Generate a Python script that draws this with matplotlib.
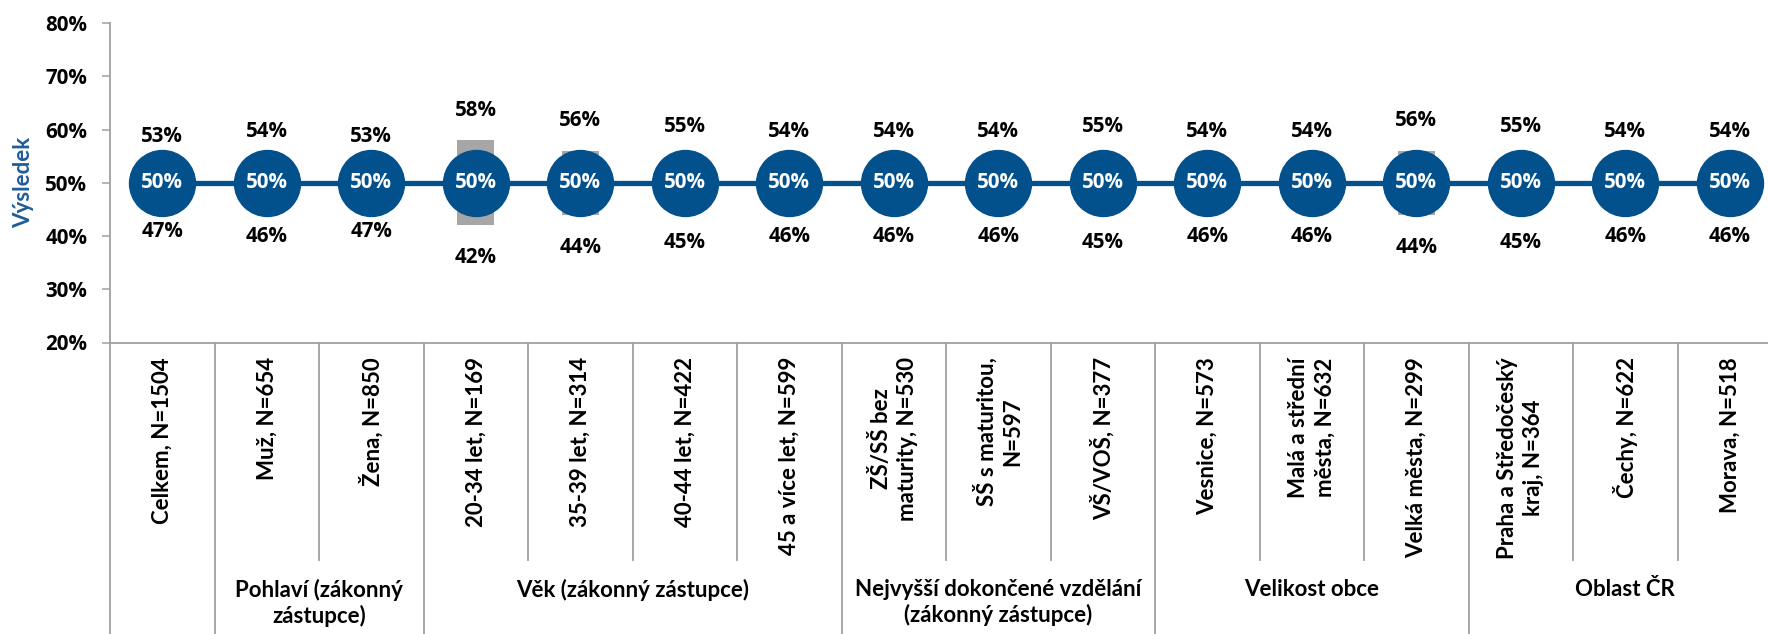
import matplotlib
matplotlib.use("Agg")
import matplotlib.pyplot as plt
import matplotlib.transforms as mtransforms
import numpy as np

# Survey result with confidence interval per respondent group
categories = [
    "Celkem, N=1504",
    "Muž, N=654",
    "Žena, N=850",
    "20-34 let, N=169",
    "35-39 let, N=314",
    "40-44 let, N=422",
    "45 a více let, N=599",
    "ZŠ/SŠ bez\nmaturity, N=530",
    "SŠ s maturitou,\nN=597",
    "VŠ/VOŠ, N=377",
    "Vesnice, N=573",
    "Malá a střední\nměsta, N=632",
    "Velká města, N=299",
    "Praha a Středočeský\nkraj, N=364",
    "Čechy, N=622",
    "Morava, N=518",
]
result = [50, 50, 50, 50, 50, 50, 50, 50, 50, 50, 50, 50, 50, 50, 50, 50]
upper = [53, 54, 53, 58, 56, 55, 54, 54, 54, 55, 54, 54, 56, 55, 54, 54]
lower = [47, 46, 47, 42, 44, 45, 46, 46, 46, 45, 46, 46, 44, 45, 46, 46]

group_names = [
    "",
    "Pohlaví (zákonný\nzástupce)",
    "Věk (zákonný zástupce)",
    "Nejvyšší dokončené vzdělání\n(zákonný zástupce)",
    "Velikost obce",
    "Oblast ČR",
]
group_sizes = [1, 2, 4, 3, 3, 3]

y_ticks = [20, 30, 40, 50, 60, 70, 80]

BLUE = "#02508C"
LABEL_BLUE = "#1F5C99"
GREY_BOX = "#A6A6A6"
AXIS_GREY = "#A0A0A0"
TEXT_FONT = ["Lato", "DejaVu Sans"]
NUM_FONT = ["Open Sans", "DejaVu Sans"]
FS_TEXT = 16
FS_NUM = 14.8

plt.rcParams["font.family"] = TEXT_FONT
plt.rcParams["font.weight"] = "bold"

W, H = 1768, 634
fig = plt.figure(figsize=(W / 100, H / 100), dpi=100)

ax_left, ax_bottom_px, ax_top_px = 110, 342.5, 23
ax_width_px = 104.5 * len(categories)
ax = fig.add_axes([ax_left / W, 1 - ax_bottom_px / H,
                   ax_width_px / W, (ax_bottom_px - ax_top_px) / H])
ax_h_px = ax_bottom_px - ax_top_px

x = np.arange(len(categories))
up = np.array(upper)
lo = np.array(lower)
mid = np.array(result)

# confidence interval boxes
ax.bar(x, up - lo, bottom=lo, width=0.355, color=GREY_BOX, zorder=2)
# result line with circle markers
ax.plot(x, mid, color=BLUE, lw=3.8, marker="o", markersize=47.5,
        markerfacecolor=BLUE, markeredgecolor=BLUE, zorder=3)

for xi, m, u, l in zip(x, mid, up, lo):
    ax.text(xi, m, f"{m}%", ha="center", va="center", color="white",
            family=NUM_FONT, fontsize=FS_NUM, fontweight="bold", zorder=4)
    ax.annotate(f"{u}%", (xi, u), xytext=(0, 21.6), textcoords="offset points",
                ha="center", va="center", family=NUM_FONT, fontsize=FS_NUM,
                fontweight="bold", color="black", zorder=4)
    ax.annotate(f"{l}%", (xi, l), xytext=(0, -23.5), textcoords="offset points",
                ha="center", va="center", family=NUM_FONT, fontsize=FS_NUM,
                fontweight="bold", color="black", zorder=4)

ax.set_xlim(-0.5, len(categories) - 0.5)
ax.set_ylim(20, 80)
ax.set_yticks(y_ticks)
ax.set_yticklabels([f"{v}%" for v in y_ticks], family=NUM_FONT,
                   fontsize=FS_NUM, fontweight="bold")
ax.tick_params(axis="y", direction="out", length=5.8, width=1.1,
               color=AXIS_GREY, pad=10.5)
ax.set_xticks([])
for s in ("top", "right"):
    ax.spines[s].set_visible(False)
for s in ("left", "bottom"):
    ax.spines[s].set_color(AXIS_GREY)
    ax.spines[s].set_linewidth(1.3)

ax.set_ylabel("Výsledek", color=LABEL_BLUE, fontsize=FS_TEXT,
              fontweight="bold", va="center")
ax.yaxis.set_label_coords(-(110 - 24) / ax_width_px, 0.5)

# category table below the axis
trans = mtransforms.blended_transform_factory(ax.transData, ax.transAxes)
inner_end = -(560 - ax_bottom_px) / ax_h_px
outer_end = -(H - ax_bottom_px + 2) / ax_h_px

group_edges = np.cumsum([0] + group_sizes)
for k in range(0, len(categories)):
    xb = k - 0.5
    y_end = outer_end if k in group_edges else inner_end
    ax.plot([xb, xb], [0, y_end], transform=trans, color=AXIS_GREY,
            lw=1.3, clip_on=False, zorder=1)

cat_top = -(357 - ax_bottom_px) / ax_h_px
for xi, lab in zip(x, categories):
    ax.text(xi, cat_top, lab, transform=trans, rotation=90, ha="center",
            va="top", multialignment="center", fontsize=FS_TEXT,
            fontweight="bold", linespacing=1.3)

grp_top = -(579 - ax_bottom_px) / ax_h_px
for name, a, b in zip(group_names, group_edges[:-1], group_edges[1:]):
    if not name:
        continue
    xc = (a + b - 1) / 2
    ax.text(xc, grp_top, name, transform=trans, ha="center", va="top",
            multialignment="center", fontsize=FS_TEXT, fontweight="bold",
            linespacing=1.2)

fig.savefig("out.png", dpi=100)
